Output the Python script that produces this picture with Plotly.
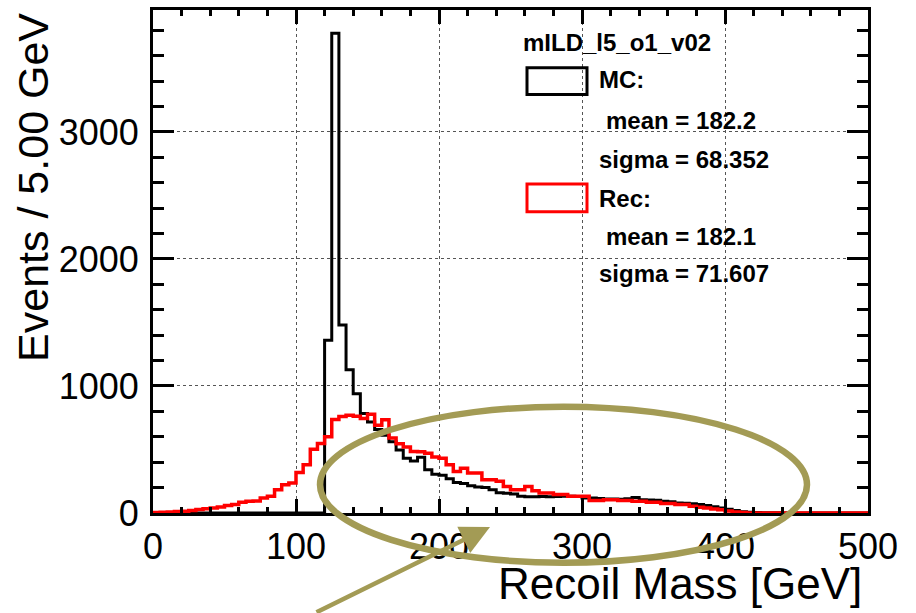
import plotly.graph_objects as go

# ---------------- data ----------------
bin_low = list(range(0, 500, 5))          # 5 GeV bins, 0..500 GeV
bin_width = 5

mc_counts = [0] * 24 + [
    1361, 3777, 1480, 1127, 939, 783, 717, 658, 613, 561,
    496, 431, 410, 439, 340, 305, 298, 270, 240, 232,
    215, 205, 200, 184, 160, 156, 150, 132, 127, 128,
    130, 128, 130, 131, 131, 130, 118, 118, 115, 111,
    111, 108, 112, 123, 105, 103, 100, 92, 88, 79,
    76, 72, 66, 60, 50, 40, 30, 20, 10, 5,
    3, 2, 1, 1] + [0] * 12

rec_counts = [
    3, 5, 8, 12, 14, 20, 27, 33, 40, 48,
    59, 66, 85, 92, 95, 118, 131, 184, 223, 236,
    319, 379, 501, 548, 600, 736, 760, 770, 762, 744,
    777, 690, 735, 590, 545, 520, 485, 483, 470, 440,
    431, 379, 327, 353, 314, 314, 262, 262, 250, 209,
    184, 184, 209, 175, 158, 158, 145, 145, 131, 131,
    131, 98, 98, 105, 105, 98, 98, 92, 92, 85,
    85, 74, 74, 66, 66, 53, 45, 40, 32, 25,
    15, 8, 3, 0, 0, 0, 0, 0, 0, 0,
    0, 0, 0, 0, 0, 0, 0, 0, 0, 0]

legend_title = "mILD_l5_o1_v02"
mc_label = ["MC:", " mean = 182.2", "sigma = 68.352"]
rec_label = ["Rec:", " mean = 182.1", "sigma = 71.607"]

x_title = "Recoil Mass [GeV]"
y_title = "Events / 5.00 GeV"

# ---------------- figure ----------------
W, H = 916, 613
ML, MR, MT, MB = 153, 48, 7, 100
PW, PH = W - ML - MR, H - MT - MB


def px(xp):
    return (xp - ML) / PW


def py(yp):
    return (H - MB - yp) / PH


edges = bin_low + [bin_low[-1] + bin_width]
fig = go.Figure()
fig.add_trace(go.Scatter(x=edges, y=mc_counts + [mc_counts[-1]], mode="lines",
                         line=dict(color="black", width=3, shape="hv"),
                         showlegend=False, hoverinfo="skip"))
fig.add_trace(go.Scatter(x=edges, y=rec_counts + [rec_counts[-1]], mode="lines",
                         line=dict(color="#ff0000", width=3.5, shape="hv"),
                         showlegend=False, hoverinfo="skip"))

FONT = "Liberation Sans, Arial, sans-serif"

fig.update_layout(
    width=W, height=H,
    margin=dict(l=ML, r=MR, t=MT, b=MB, pad=0),
    paper_bgcolor="white", plot_bgcolor="white",
    showlegend=False,
)
fig.update_xaxes(
    range=[0, 500], dtick=100, tick0=0,
    showline=True, linecolor="black", linewidth=3, mirror="allticks",
    ticks="inside", ticklen=14, tickwidth=2.5, tickcolor="black",
    minor=dict(ticks="inside", ticklen=6, dtick=20, tickwidth=2.5, tickcolor="black", showgrid=False),
    showgrid=True, gridcolor="#555555", griddash="dot", gridwidth=1.2,
    zeroline=False,
    tickfont=dict(family=FONT, size=36, color="black"),
    ticklabelstandoff=0,
)
fig.update_yaxes(
    range=[0, 3960], dtick=1000, tick0=0,
    showline=True, linecolor="black", linewidth=3, mirror="allticks",
    ticks="inside", ticklen=21, tickwidth=2.5, tickcolor="black",
    minor=dict(ticks="inside", ticklen=11, dtick=200, tickwidth=2.5, tickcolor="black", showgrid=False),
    showgrid=True, gridcolor="#555555", griddash="dot", gridwidth=1.2,
    zeroline=False,
    tickfont=dict(family=FONT, size=36, color="black"),
    ticklabelstandoff=4,
)

ann = []
ann.append(dict(text=y_title, xref="paper", yref="paper", x=px(33), y=py(186),
                textangle=-90, showarrow=False, xanchor="center", yanchor="middle",
                font=dict(family=FONT, size=43, color="black")))
ann.append(dict(text=x_title, xref="paper", yref="paper", x=px(864), y=py(584),
                showarrow=False, xanchor="right", yanchor="middle",
                font=dict(family=FONT, size=44, color="black")))

# legend block
lf = dict(family=FONT, size=24, color="black")
ann.append(dict(text="<b>%s</b>" % legend_title, xref="paper", yref="paper", x=px(521), y=py(40),
                showarrow=False, xanchor="left", yanchor="middle", font=lf))
rows_y = [77, 118, 157]
for i, t in enumerate(mc_label):
    ann.append(dict(text="<b>%s</b>" % t.strip(), xref="paper", yref="paper",
                    x=px(604 if t.startswith(" ") else 597), y=py(rows_y[i]),
                    showarrow=False, xanchor="left", yanchor="middle", font=lf))
rows_y2 = [197, 235, 272]
for i, t in enumerate(rec_label):
    ann.append(dict(text="<b>%s</b>" % t.strip(), xref="paper", yref="paper",
                    x=px(604 if t.startswith(" ") else 597), y=py(rows_y2[i]),
                    showarrow=False, xanchor="left", yanchor="middle", font=lf))

olive = "#a39b55"
# arrow pointing at the ellipse
ann.append(dict(text="", xref="paper", yref="paper", x=px(490), y=py(527),
                ax=-175, ay=95, showarrow=True, arrowhead=2, arrowsize=1.3,
                arrowwidth=4.5, arrowcolor=olive))
fig.update_layout(annotations=ann)

shapes = []
shapes.append(dict(type="rect", xref="paper", yref="paper",
                   x0=px(527), x1=px(587), y0=py(92), y1=py(65),
                   line=dict(color="black", width=3)))
shapes.append(dict(type="rect", xref="paper", yref="paper",
                   x0=px(527), x1=px(587), y0=py(210), y1=py(182),
                   line=dict(color="#ff0000", width=3)))
shapes.append(dict(type="circle", xref="paper", yref="paper",
                   x0=px(320), x1=px(807), y0=py(563), y1=py(406),
                   line=dict(color=olive, width=6.5)))
fig.update_layout(shapes=shapes)

fig.write_html("out.html")
